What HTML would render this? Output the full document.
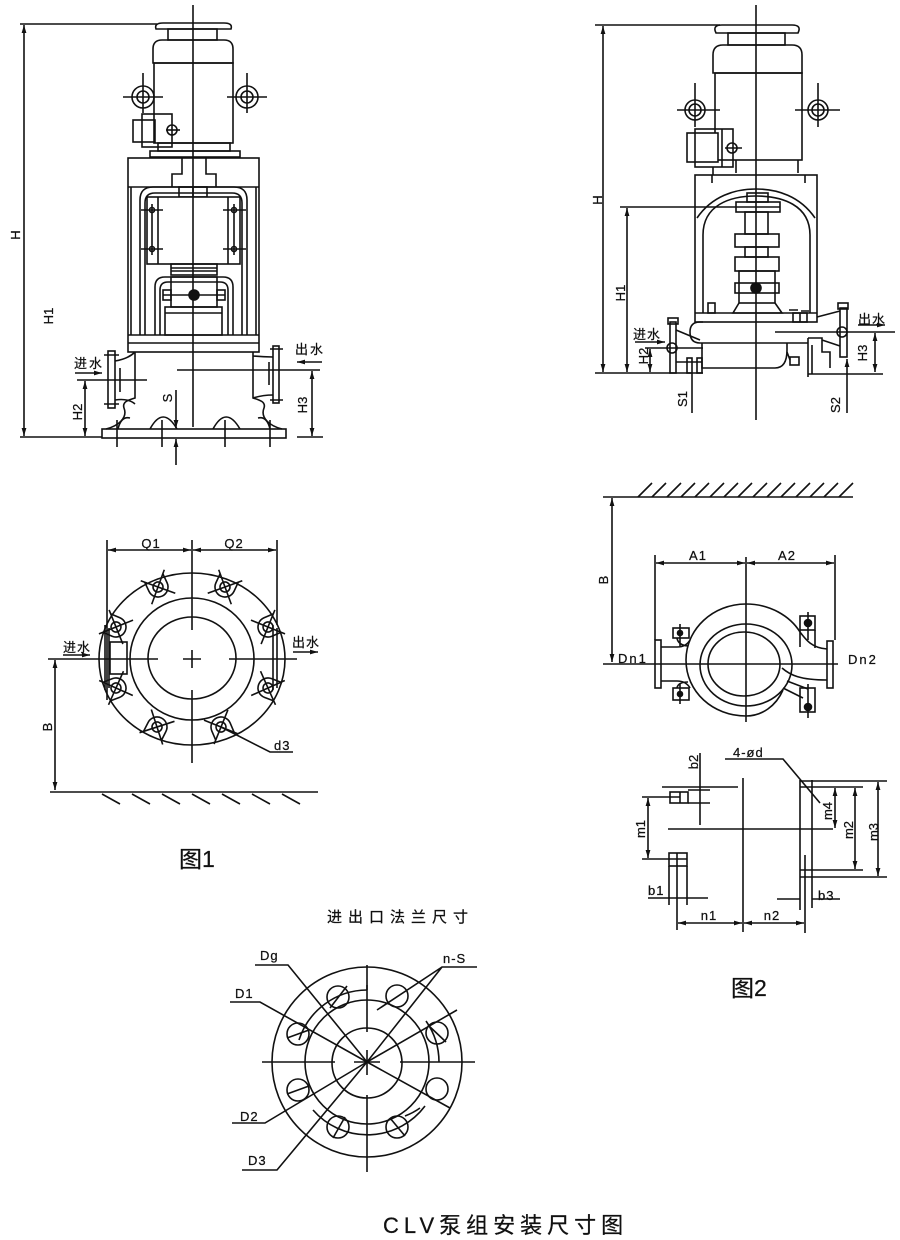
<!DOCTYPE html>
<html><head><meta charset="utf-8"><style>
html,body{margin:0;padding:0;background:#fff;}
svg{display:block}
text{font-family:"Liberation Sans","Noto Sans CJK SC",sans-serif;fill:#111;stroke:#111;stroke-width:0.25}
</style></head><body>
<svg width="900" height="1240" viewBox="0 0 900 1240" xmlns="http://www.w3.org/2000/svg">
<defs>
<marker id="a" viewBox="0 0 10 6" refX="10" refY="3" markerWidth="8" markerHeight="4.8" orient="auto-start-reverse" markerUnits="userSpaceOnUse"><path d="M0,0 L10,3 L0,6 z" fill="#111"/></marker>
</defs>
<rect width="900" height="1240" fill="#fff"/>
<g fill="none" stroke="#111" stroke-width="1.6">

<!-- ========== FIG 1 ELEVATION (left pump) ========== -->
<line x1="193" y1="5" x2="193" y2="427"/>
<line x1="20" y1="24" x2="157" y2="24"/>
<line x1="24" y1="25" x2="24" y2="436" marker-start="url(#a)" marker-end="url(#a)"/>
<line x1="20" y1="437" x2="102" y2="437"/>
<path d="M156,29 Q154,23 163,23 L224,23 Q233,23 231,29 Z"/>
<rect x="168" y="29" width="49" height="11"/>
<path d="M153,63 L153,49 Q153,40 162,40 L224,40 Q233,40 233,49 L233,63 Z"/>
<rect x="154" y="63" width="79" height="80"/>
<rect x="158" y="143" width="72" height="8"/>
<rect x="150" y="151" width="90" height="6"/>
<circle cx="143" cy="97" r="11"/><circle cx="143" cy="97" r="6"/>
<line x1="123" y1="97" x2="163" y2="97"/><line x1="143" y1="73" x2="143" y2="113"/>
<circle cx="247" cy="97" r="11"/><circle cx="247" cy="97" r="6"/>
<line x1="227" y1="97" x2="267" y2="97"/><line x1="247" y1="73" x2="247" y2="113"/>
<rect x="133" y="120" width="22" height="22"/>
<rect x="142" y="114" width="30" height="33"/>
<circle cx="172" cy="130" r="5"/>
<line x1="166" y1="130" x2="180" y2="130"/>
<rect x="128" y="158" width="131" height="194"/>
<line x1="128" y1="187" x2="259" y2="187"/>
<path d="M182,158 L182,174 L172,174 L172,187 M206,158 L206,174 L216,174 L216,187"/>
<rect x="179" y="187" width="28" height="10"/>
<line x1="131" y1="187" x2="131" y2="335"/><line x1="256" y1="187" x2="256" y2="335"/>
<path d="M140,335 L140,200 Q140,187 153,187 L234,187 Q247,187 247,200 L247,335"/>
<path d="M145,335 L145,203 Q145,193 155,193 L232,193 Q242,193 242,203 L242,335"/>
<rect x="147" y="197" width="93" height="67" fill="#fff"/>
<line x1="158" y1="197" x2="158" y2="264"/><line x1="228" y1="197" x2="228" y2="264"/>
<line x1="152" y1="204" x2="152" y2="255"/><line x1="234" y1="204" x2="234" y2="255"/>
<circle cx="152" cy="210" r="2.5"/><circle cx="152" cy="249" r="2.5"/>
<circle cx="234" cy="210" r="2.5"/><circle cx="234" cy="249" r="2.5"/>
<path d="M141,210 H163 M141,249 H163 M223,210 H246 M223,249 H246"/>
<line x1="193" y1="187" x2="193" y2="264"/>
<rect x="171" y="264" width="46" height="11"/>
<path d="M171,268 H217 M171,271 H217"/>
<path d="M155,335 L155,287 Q155,277 165,277 L223,277 Q233,277 233,287 L233,335"/>
<path d="M160,335 L160,290 Q160,282 168,282 L220,282 Q228,282 228,290 L228,335"/>
<rect x="171" y="277" width="46" height="30"/>
<rect x="163" y="290" width="8" height="10"/><rect x="217" y="290" width="8" height="10"/>
<line x1="163" y1="295" x2="225" y2="295"/>
<circle cx="194" cy="295" r="5" fill="#111"/>
<rect x="165" y="307" width="57" height="28"/>
<line x1="165" y1="313" x2="222" y2="313"/>
<line x1="128" y1="335" x2="259" y2="335"/>
<line x1="128" y1="343" x2="259" y2="343"/>
<!-- casing -->
<path d="M135,352 L135,398 C128,400 122,402 124,408 C128,418 118,426 106,429"/>
<path d="M253,352 L253,398 C260,400 266,402 264,408 C260,418 270,426 282,429"/>
<path d="M118,429 Q121,416 130,418"/><path d="M270,429 Q267,416 258,418"/>
<rect x="102" y="429" width="184" height="9"/>
<path d="M150,429 Q163,405 177,429 M213,429 Q226,405 240,429"/>
<path d="M117,420 V447 M162,420 V447 M225,420 V447 M270,420 V447"/>
<rect x="108" y="351" width="7" height="57"/>
<path d="M104,355 H119 M104,404 H119"/>
<path d="M115,361 Q128,359 135,352 M115,400 Q128,398 135,404"/>
<line x1="120" y1="368" x2="120" y2="392"/>
<rect x="273" y="346" width="6" height="57"/>
<path d="M270,349 H283 M270,400 H283"/>
<path d="M253,356 Q263,357 273,357 M253,398 Q263,395 273,395"/>
<line x1="269" y1="362" x2="269" y2="385"/>
<line x1="77" y1="380" x2="147" y2="380"/>
<line x1="177" y1="370" x2="320" y2="370"/>
<line x1="75" y1="373" x2="102" y2="373" marker-end="url(#a)"/>
<line x1="322" y1="362" x2="297" y2="362" marker-end="url(#a)"/>
<line x1="85" y1="381" x2="85" y2="436" marker-start="url(#a)" marker-end="url(#a)"/>
<line x1="312" y1="371" x2="312" y2="436" marker-start="url(#a)" marker-end="url(#a)"/>
<line x1="297" y1="437" x2="323" y2="437"/>
<line x1="176" y1="390" x2="176" y2="428" marker-end="url(#a)"/>
<line x1="176" y1="465" x2="176" y2="439" marker-end="url(#a)"/>

<!-- ========== FIG 1 PLAN ========== -->
<ellipse cx="192" cy="659" rx="93" ry="86"/>
<ellipse cx="192" cy="659" rx="62" ry="61"/>
<ellipse cx="192" cy="658" rx="44" ry="41"/>
<g transform="translate(158,587) rotate(-25)"><path d="M-10,-10 L-10,0 A10,10 0 0 0 10,0 L10,-10"/><circle r="5"/><path d="M-13,-13 L13,13 M13,-13 L-13,13"/></g>
<g transform="translate(225,587) rotate(25)"><path d="M-10,-10 L-10,0 A10,10 0 0 0 10,0 L10,-10"/><circle r="5"/><path d="M-13,-13 L13,13 M13,-13 L-13,13"/></g>
<g transform="translate(116,627) rotate(-67)"><path d="M-10,-10 L-10,0 A10,10 0 0 0 10,0 L10,-10"/><circle r="5"/><path d="M-13,-13 L13,13 M13,-13 L-13,13"/></g>
<g transform="translate(268,627) rotate(67)"><path d="M-10,-10 L-10,0 A10,10 0 0 0 10,0 L10,-10"/><circle r="5"/><path d="M-13,-13 L13,13 M13,-13 L-13,13"/></g>
<g transform="translate(116,688) rotate(-111)"><path d="M-10,-10 L-10,0 A10,10 0 0 0 10,0 L10,-10"/><circle r="5"/><path d="M-13,-13 L13,13 M13,-13 L-13,13"/></g>
<g transform="translate(268,688) rotate(111)"><path d="M-10,-10 L-10,0 A10,10 0 0 0 10,0 L10,-10"/><circle r="5"/><path d="M-13,-13 L13,13 M13,-13 L-13,13"/></g>
<g transform="translate(157,727) rotate(-153)"><path d="M-10,-10 L-10,0 A10,10 0 0 0 10,0 L10,-10"/><circle r="5"/><path d="M-13,-13 L13,13 M13,-13 L-13,13"/></g>
<g transform="translate(221,727) rotate(157)"><path d="M-10,-10 L-10,0 A10,10 0 0 0 10,0 L10,-10"/><circle r="5"/><path d="M-13,-13 L13,13 M13,-13 L-13,13"/></g>
<rect x="110" y="642" width="17" height="32"/>
<path d="M105,625 V690 M109,628 V688"/>
<path d="M273,625 V690 M277,628 V688"/>
<path d="M48,659 H158 M229,659 H297 M183,659 H201"/>
<path d="M192,540 V630 M192,650 V668 M192,690 V763"/>
<line x1="107" y1="540" x2="107" y2="700"/>
<line x1="277" y1="540" x2="277" y2="625"/>
<line x1="108" y1="550" x2="191" y2="550" marker-start="url(#a)" marker-end="url(#a)"/>
<line x1="193" y1="550" x2="276" y2="550" marker-start="url(#a)" marker-end="url(#a)"/>
<line x1="63" y1="655" x2="90" y2="655" marker-end="url(#a)"/>
<line x1="293" y1="652" x2="318" y2="652" marker-end="url(#a)"/>
<line x1="55" y1="660" x2="55" y2="790" marker-start="url(#a)" marker-end="url(#a)"/>
<line x1="50" y1="792" x2="318" y2="792"/>
<path d="M102,794 L120,804 M132,794 L150,804 M162,794 L180,804 M192,794 L210,804 M222,794 L240,804 M252,794 L270,804 M282,794 L300,804"/>
<path d="M221,727 L270,752 H293"/>

<!-- ========== FIG 2 ELEVATION (right pump) ========== -->
<line x1="756" y1="5" x2="756" y2="420"/>
<line x1="595" y1="25" x2="720" y2="25"/>
<line x1="603" y1="26" x2="603" y2="372" marker-start="url(#a)" marker-end="url(#a)"/>
<line x1="595" y1="373" x2="703" y2="373"/>
<path d="M716,33 Q712,25 722,25 L792,25 Q802,25 798,33 Z"/>
<rect x="728" y="33" width="57" height="12"/>
<path d="M713,73 L713,55 Q713,45 723,45 L792,45 Q802,45 802,55 L802,73 Z"/>
<rect x="715" y="73" width="87" height="87"/>
<path d="M736,160 V173 M798,160 V173"/>
<circle cx="695" cy="110" r="10"/><circle cx="695" cy="110" r="6"/>
<line x1="677" y1="110" x2="720" y2="110"/><line x1="695" y1="83" x2="695" y2="127"/>
<circle cx="818" cy="110" r="10"/><circle cx="818" cy="110" r="6"/>
<line x1="795" y1="110" x2="840" y2="110"/><line x1="818" y1="83" x2="818" y2="127"/>
<rect x="687" y="133" width="31" height="29" fill="#fff"/>
<rect x="695" y="129" width="38" height="38"/>
<line x1="722" y1="129" x2="722" y2="167"/>
<circle cx="732" cy="148" r="5"/>
<line x1="725" y1="148" x2="742" y2="148"/>
<rect x="695" y="175" width="122" height="147"/>
<path d="M712,175 V183 M805,175 V183 M713,167 V175"/>
<line x1="695" y1="313" x2="817" y2="313"/>
<path d="M697,218 C712,196 735,189 756,189 C777,189 800,196 815,218"/>
<path d="M703,313 L703,235 C703,205 730,196 756,196 C782,196 810,205 810,235 L810,313"/>
<line x1="620" y1="207" x2="780" y2="207"/>
<line x1="627" y1="208" x2="627" y2="372" marker-start="url(#a)" marker-end="url(#a)"/>
<rect x="747" y="193" width="21" height="9"/>
<rect x="736" y="202" width="44" height="10"/>
<rect x="745" y="212" width="23" height="22"/>
<rect x="735" y="234" width="44" height="13"/>
<rect x="745" y="247" width="23" height="10"/>
<rect x="735" y="257" width="44" height="14"/>
<rect x="739" y="271" width="36" height="32"/>
<rect x="735" y="283" width="44" height="10"/>
<circle cx="756" cy="288" r="5" fill="#111"/>
<path d="M739,303 L733,313 L782,313 L775,303"/>
<rect x="708" y="303" width="7" height="10"/>
<rect x="793" y="313" width="14" height="9"/>
<line x1="800" y1="313" x2="800" y2="322"/>
<path d="M789,310 H798 M801,311 H809"/>
<!-- casing -->
<path d="M703,322 L700,322 Q690,322 690,332 Q690,343 700,343 L808,343"/>
<path d="M817,317 L840,311"/>
<path d="M702,343 L702,368 L775,368 Q787,368 787,350 L787,343"/>
<rect x="790" y="357" width="9" height="8"/>
<line x1="787" y1="352" x2="790" y2="360"/>
<path d="M808,338 V377 M812,345 V374 M808,338 H822 L822,352 L830,352 L830,368 M822,340 L840,346"/>
<rect x="670" y="322" width="6" height="51"/>
<rect x="668" y="318" width="10" height="6"/>
<path d="M676,330 L700,340 M676,362 L702,362"/>
<rect x="687" y="358" width="5" height="15"/><rect x="697" y="358" width="5" height="15"/>
<circle cx="672" cy="348" r="5"/>
<line x1="645" y1="348" x2="703" y2="348"/>
<line x1="635" y1="342" x2="665" y2="342" marker-end="url(#a)"/>
<line x1="650" y1="349" x2="650" y2="372" marker-start="url(#a)" marker-end="url(#a)"/>
<line x1="692" y1="373" x2="692" y2="413"/>
<line x1="847" y1="413" x2="847" y2="359" marker-end="url(#a)"/>
<rect x="840" y="308" width="7" height="49"/>
<rect x="838" y="303" width="10" height="6"/>
<circle cx="842" cy="332" r="5"/>
<line x1="775" y1="332" x2="895" y2="332"/>
<line x1="858" y1="325" x2="885" y2="325" marker-end="url(#a)"/>
<line x1="875" y1="333" x2="875" y2="372" marker-start="url(#a)" marker-end="url(#a)"/>
<line x1="808" y1="374" x2="883" y2="374"/>

<!-- ========== FIG 2 PLAN ========== -->
<line x1="603" y1="497" x2="853" y2="497"/>
<path d="M638,497 L652,483 M652,497 L666,483 M667,497 L681,483 M681,497 L695,483 M695,497 L709,483 M710,497 L724,483 M724,497 L738,483 M738,497 L752,483 M753,497 L767,483 M767,497 L781,483 M781,497 L795,483 M796,497 L810,483 M810,497 L824,483 M824,497 L838,483 M839,497 L853,483"/>
<line x1="612" y1="498" x2="612" y2="662" marker-start="url(#a)" marker-end="url(#a)"/>
<line x1="655" y1="555" x2="655" y2="640"/>
<line x1="835" y1="555" x2="835" y2="640"/>
<line x1="656" y1="563" x2="745" y2="563" marker-start="url(#a)" marker-end="url(#a)"/>
<line x1="747" y1="563" x2="834" y2="563" marker-start="url(#a)" marker-end="url(#a)"/>
<line x1="746" y1="557" x2="746" y2="722"/>
<line x1="603" y1="664" x2="838" y2="664"/>
<path d="M827,649 C812,648 806,640 800,632 C790,616 770,604 746,604 C713,604 686,629 686,660 C686,692 713,716 746,716 C762,716 776,706 783,690"/>
<path d="M782,668 C790,675 800,680 827,680"/>
<path d="M783,688 L803,698 M787,681 L808,689"/>
<ellipse cx="746" cy="665" rx="46" ry="41"/>
<ellipse cx="744" cy="664" rx="36" ry="32"/>
<rect x="655" y="640" width="6" height="48"/>
<path d="M661,647 H677 Q686,647 690,640 M661,681 H677 Q686,681 690,688"/>
<rect x="673" y="628" width="16" height="10"/>
<circle cx="680" cy="633" r="2.5" fill="#111"/>
<path d="M680,624 V646 M677,638 Q678,645 688,646"/>
<rect x="673" y="688" width="16" height="12"/>
<circle cx="680" cy="694" r="2.5" fill="#111"/>
<path d="M680,684 V704 M677,688 Q678,682 688,682"/>
<rect x="800" y="616" width="15" height="14"/>
<path d="M800,630 V647 M815,630 V648"/>
<circle cx="808" cy="623" r="3.5" fill="#111"/>
<line x1="808" y1="612" x2="808" y2="640"/>
<rect x="800" y="688" width="15" height="24"/>
<circle cx="808" cy="707" r="3.5" fill="#111"/>
<line x1="808" y1="684" x2="808" y2="718"/>
<rect x="827" y="641" width="6" height="47"/>

<!-- ========== FIG 2 BASE VIEW ========== -->
<path d="M725,759 H783 L820,803"/>
<rect x="670" y="792" width="18" height="11"/>
<line x1="680" y1="792" x2="680" y2="803"/>
<line x1="662" y1="787" x2="738" y2="787"/>
<line x1="642" y1="797" x2="680" y2="797"/>
<path d="M688,790 H710 M688,803 H710"/>
<line x1="700" y1="753" x2="700" y2="825"/>
<line x1="648" y1="798" x2="648" y2="858" marker-start="url(#a)" marker-end="url(#a)"/>
<rect x="669" y="853" width="18" height="13"/>
<line x1="642" y1="859" x2="687" y2="859"/>
<path d="M669,866 V905 M687,866 V905 M677,853 V930"/>
<line x1="648" y1="898" x2="708" y2="898"/>
<line x1="668" y1="829" x2="833" y2="829"/>
<line x1="743" y1="778" x2="743" y2="932"/>
<line x1="678" y1="923" x2="742" y2="923" marker-start="url(#a)" marker-end="url(#a)"/>
<line x1="744" y1="923" x2="804" y2="923" marker-start="url(#a)" marker-end="url(#a)"/>
<path d="M800,780 V910 M805,855 V933 M812,780 V908"/>
<path d="M800,781 H887 M800,787 H863 M800,870 H863 M800,877 H887"/>
<path d="M777,899 H800 M812,899 H840"/>
<line x1="835" y1="788" x2="835" y2="828" marker-start="url(#a)" marker-end="url(#a)"/>
<line x1="855" y1="788" x2="855" y2="869" marker-start="url(#a)" marker-end="url(#a)"/>
<line x1="878" y1="782" x2="878" y2="876" marker-start="url(#a)" marker-end="url(#a)"/>

<!-- ========== FLANGE ========== -->
<circle cx="367" cy="1062" r="95"/>
<circle cx="367" cy="1062" r="62"/>
<circle cx="367" cy="1063" r="35"/>
<path d="M367,990 A72,72 0 0 0 299,1040"/>
<path d="M439,1062 A72,72 0 0 0 426,1021"/>
<path d="M313,1110 A72,72 0 0 0 425,1106"/>
<line x1="367" y1="990" x2="367" y2="985"/>
<g>
<circle cx="338" cy="997" r="11"/><line x1="330" y1="1008" x2="347" y2="986"/>
<circle cx="397" cy="996" r="11"/>
<circle cx="298" cy="1034" r="11"/><line x1="287" y1="1038" x2="309" y2="1030"/>
<circle cx="437" cy="1033" r="11"/><line x1="428" y1="1025" x2="446" y2="1042"/>
<circle cx="298" cy="1090" r="11"/><line x1="287" y1="1094" x2="309" y2="1086"/>
<circle cx="437" cy="1089" r="11"/>
<circle cx="338" cy="1127" r="11"/><line x1="333" y1="1138" x2="345" y2="1117"/>
<circle cx="397" cy="1127" r="11"/><line x1="390" y1="1118" x2="405" y2="1136"/>
</g>
<path d="M262,1062 H335 M400,1062 H475 M354,1062 H380"/>
<path d="M367,965 V1032 M367,1050 V1075 M367,1095 V1172"/>
<path d="M255,965 H288 L367,1062"/>
<path d="M230,1002 H260 L367,1062"/>
<path d="M477,967 H442 L377,1010 M442,967 L367,1062"/>
<path d="M232,1123 H265 L367,1062"/>
<path d="M242,1170 H277 L367,1062"/>
<path d="M367,1062 L457,1010 M367,1062 L450,1108"/>
<path d="M405,1116 Q413,1113 420,1108"/>
</g>

<!-- ========== TEXT ========== -->
<g font-size="13">
<text transform="translate(20,235) rotate(-90)" text-anchor="middle">H</text>
<text transform="translate(53,316) rotate(-90)" text-anchor="middle">H1</text>
<text transform="translate(82,412) rotate(-90)" text-anchor="middle">H2</text>
<text transform="translate(172,398) rotate(-90)" text-anchor="middle">S</text>
<text transform="translate(307,405) rotate(-90)" text-anchor="middle">H3</text>
<text x="74" y="368" letter-spacing="2">进水</text>
<text x="295" y="354" letter-spacing="2">出水</text>

<text transform="translate(602,200) rotate(-90)" text-anchor="middle">H</text>
<text transform="translate(625,293) rotate(-90)" text-anchor="middle">H1</text>
<text transform="translate(648,356) rotate(-90)" text-anchor="middle">H2</text>
<text transform="translate(687,399) rotate(-90)" text-anchor="middle">S1</text>
<text transform="translate(840,405) rotate(-90)" text-anchor="middle">S2</text>
<text transform="translate(867,353) rotate(-90)" text-anchor="middle">H3</text>
<text x="633" y="339" letter-spacing="1">进水</text>
<text x="858" y="324" letter-spacing="1">出水</text>

<text x="151" y="548" text-anchor="middle" letter-spacing="1">Q1</text>
<text x="234" y="548" text-anchor="middle" letter-spacing="1">Q2</text>
<text x="63" y="652" letter-spacing="1">进水</text>
<text x="292" y="647" letter-spacing="1">出水</text>
<text transform="translate(52,727) rotate(-90)" text-anchor="middle">B</text>
<text x="274" y="750" letter-spacing="1">d3</text>

<text transform="translate(608,580) rotate(-90)" text-anchor="middle">B</text>
<text x="698" y="560" text-anchor="middle" letter-spacing="1">A1</text>
<text x="787" y="560" text-anchor="middle" letter-spacing="1">A2</text>
<text x="618" y="663" letter-spacing="2">Dn1</text>
<text x="848" y="664" letter-spacing="2">Dn2</text>

<text x="733" y="757" letter-spacing="1">4-ød</text>
<text transform="translate(698,762) rotate(-90)" text-anchor="middle">b2</text>
<text transform="translate(645,829) rotate(-90)" text-anchor="middle">m1</text>
<text transform="translate(832,811) rotate(-90)" text-anchor="middle">m4</text>
<text transform="translate(853,830) rotate(-90)" text-anchor="middle">m2</text>
<text transform="translate(878,832) rotate(-90)" text-anchor="middle">m3</text>
<text x="648" y="895" letter-spacing="1">b1</text>
<text x="818" y="900" letter-spacing="1">b3</text>
<text x="709" y="920" text-anchor="middle" letter-spacing="1">n1</text>
<text x="772" y="920" text-anchor="middle" letter-spacing="1">n2</text>

<text x="260" y="960" letter-spacing="1">Dg</text>
<text x="235" y="998" letter-spacing="1">D1</text>
<text x="443" y="963" letter-spacing="1">n-S</text>
<text x="240" y="1121" letter-spacing="1">D2</text>
<text x="248" y="1165" letter-spacing="1">D3</text>
</g>
<text x="327" y="922" font-size="15" letter-spacing="6">进出口法兰尺寸</text>
<text x="179" y="867" font-size="23">图1</text>
<text x="731" y="996" font-size="23">图2</text>
<text x="383" y="1233" font-size="22" letter-spacing="5">CLV泵组安装尺寸图</text>
</svg>
</body></html>
